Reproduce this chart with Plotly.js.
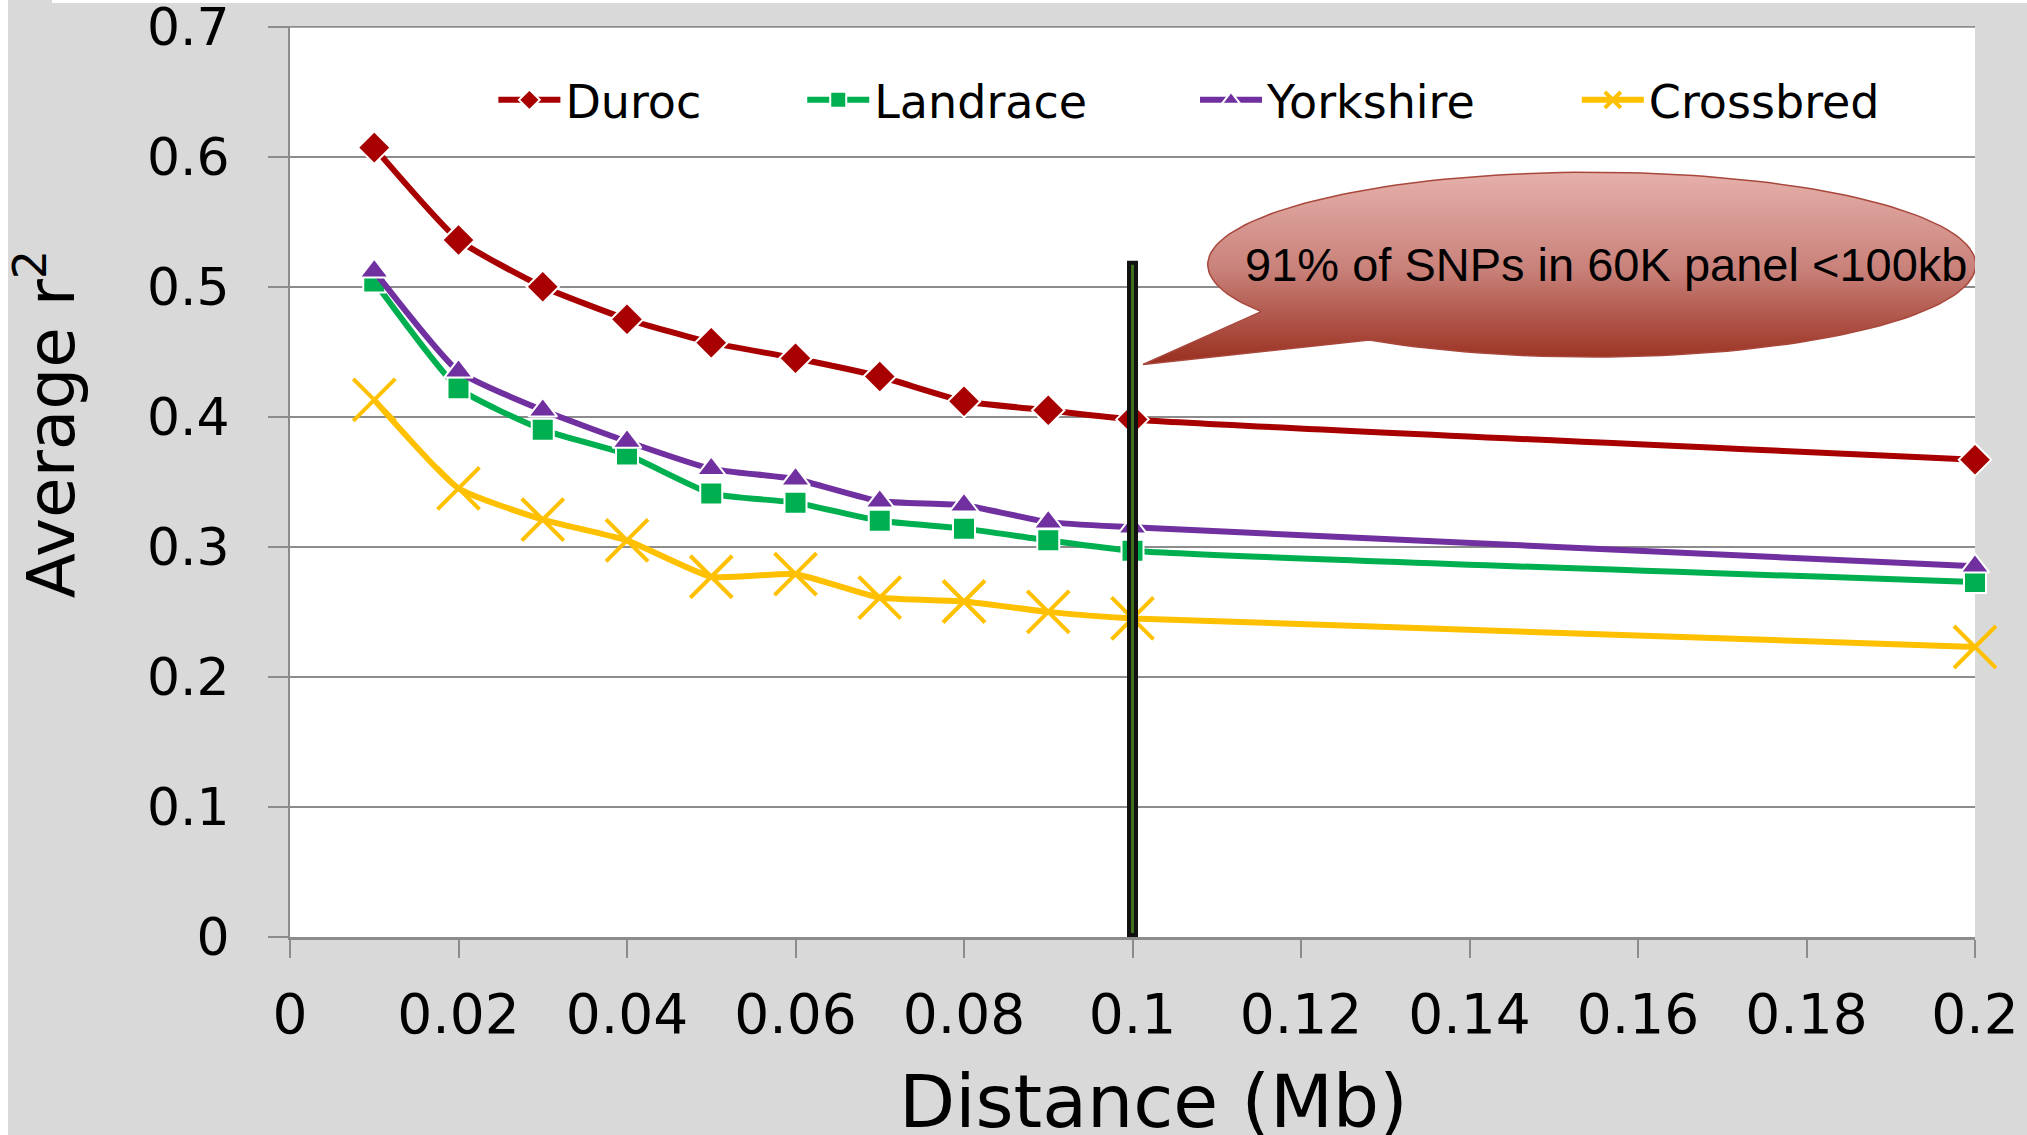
<!DOCTYPE html>
<html>
<head>
<meta charset="utf-8">
<script src="https://cdn.plot.ly/plotly-3.0.1.min.js"></script>
<style>
  html, body { margin: 0; padding: 0; background: #ffffff; }
  #chart { width: 2027px; height: 1135px; }
</style>
</head>
<body>
<div id="chart"></div>
<script>
// ---- data ----
const distance  = [0.01, 0.02, 0.03, 0.04, 0.05, 0.06, 0.07, 0.08, 0.09, 0.10, 0.20];
const duroc     = [0.607, 0.536, 0.500, 0.475, 0.457, 0.445, 0.431, 0.412, 0.405, 0.398, 0.367];
const landrace  = [0.504, 0.422, 0.390, 0.371, 0.341, 0.334, 0.320, 0.314, 0.305, 0.297, 0.273];
const yorkshire = [0.512, 0.435, 0.405, 0.381, 0.360, 0.352, 0.335, 0.332, 0.319, 0.315, 0.285];
const crossbred = [0.413, 0.345, 0.321, 0.305, 0.277, 0.279, 0.261, 0.258, 0.250, 0.245, 0.223];
const seriesNames = ["Duroc", "Landrace", "Yorkshire", "Crossbred"];

const xTickVals = [0, 0.02, 0.04, 0.06, 0.08, 0.10, 0.12, 0.14, 0.16, 0.18, 0.20];
const xTickText = ["0", "0.02", "0.04", "0.06", "0.08", "0.1", "0.12", "0.14", "0.16", "0.18", "0.2"];
const yTickVals = [0, 0.1, 0.2, 0.3, 0.4, 0.5, 0.6, 0.7];
const yTickText = ["0", "0.1", "0.2", "0.3", "0.4", "0.5", "0.6", "0.7"];

const xTitle = "Distance (Mb)";
const yTitle = "Average r<sup>2</sup>";
const cutoffDistance = 0.1;
const cutoffTop = 0.52;
const calloutText = "91% of SNPs in 60K panel <100kb";

// ---- styling ----
const FONT = "DejaVu Sans, Arial, sans-serif";
const colors = { Duroc: "#a80000", Landrace: "#00b050", Yorkshire: "#7030a0", Crossbred: "#ffc000" };

function seriesTrace(name, y, symbol, size, legendId, open) {
  return {
    type: "scatter", mode: "lines+markers", name: name,
    x: distance, y: y, legend: legendId, cliponaxis: false,
    line: { color: colors[name], width: 6, shape: "spline", smoothing: 0.5 },
    marker: open
      ? { symbol: symbol, size: size, color: colors[name], line: { color: colors[name], width: 4 } }
      : { symbol: symbol, size: size, color: colors[name], line: { color: "#ffffff", width: 2 } },
    hoverinfo: "skip"
  };
}

// ---- callout (wedge ellipse) outline, built from a few parameters ----
const co = { cx: 0.15451, cy: 0.5170, rx: 0.04558, ry: 0.07106,
             tStart: 234.6, tEnd: 572.0, tipX: 0.10125, tipY: 0.4403 };
const cxs = [], cys = [];
for (let t = co.tStart; t <= co.tEnd + 1e-9; t += 2) {
  const a = t * Math.PI / 180;
  cxs.push(co.cx + co.rx * Math.cos(a));
  cys.push(co.cy + co.ry * Math.sin(a));
}
cxs.push(co.tipX); cys.push(co.tipY);
cxs.push(cxs[0]); cys.push(cys[0]);

const calloutTrace = {
  type: "scatter", mode: "lines", x: cxs, y: cys, fill: "toself",
  fillcolor: "#c97a70",
  fillgradient: { type: "vertical", colorscale: [[0, "#992e1e"], [0.5, "#c9827a"], [1, "#e6b0ab"]] },
  line: { color: "#a8473c", width: 1.5 },
  showlegend: false, hoverinfo: "skip"
};

const traces = [
  calloutTrace,
  seriesTrace("Crossbred", crossbred, "x-thin-open", 42, "legend4", true),
  seriesTrace("Landrace", landrace, "square", 22, "legend2", false),
  seriesTrace("Yorkshire", yorkshire, "triangle-up", 25, "legend3", false),
  seriesTrace("Duroc", duroc, "diamond", 25, "legend", false)
];

function legendAt(xp) {
  return {
    x: xp, y: 0.9188, xanchor: "left", yanchor: "middle", orientation: "h",
    bgcolor: "rgba(0,0,0,0)", borderwidth: 0, itemwidth: 62,
    font: { family: FONT, size: 46, color: "#000000" }
  };
}

const layout = {
  width: 2027, height: 1135,
  margin: { l: 290, r: 52, t: 26, b: 198, pad: 0 },
  paper_bgcolor: "#d9d9d9",
  plot_bgcolor: "#ffffff",
  hovermode: false,
  showlegend: true,
  legend: legendAt(0.1207),
  legend2: legendAt(0.3040),
  legend3: legendAt(0.5371),
  legend4: legendAt(0.7637),
  xaxis: {
    range: [0, 0.2], tickmode: "array", tickvals: xTickVals, ticktext: xTickText,
    showgrid: false, zeroline: false,
    showline: true, linecolor: "#8c8c8c", linewidth: 3,
    ticks: "outside", ticklen: 18, tickwidth: 2, tickcolor: "#8c8c8c",
    ticklabelstandoff: 9, ticklabeloverflow: "allow",
    tickfont: { family: FONT, size: 55, color: "#000000" },
    fixedrange: true
  },
  yaxis: {
    range: [0, 0.7005], tickmode: "array", tickvals: yTickVals, ticktext: yTickText,
    showgrid: true, gridcolor: "#8c8c8c", gridwidth: 2, zeroline: false,
    showline: true, linecolor: "#8c8c8c", linewidth: 2,
    ticks: "outside", ticklen: 20, tickwidth: 2, tickcolor: "#8c8c8c",
    ticklabelstandoff: 28, ticklabeloverflow: "allow",
    tickfont: { family: FONT, size: 52, color: "#000000" },
    fixedrange: true
  },
  shapes: [
    { type: "line", xref: "paper", yref: "y", x0: 0, x1: 1, y0: yTickVals[yTickVals.length - 1], y1: yTickVals[yTickVals.length - 1],
      line: { color: "#8c8c8c", width: 2 }, layer: "below" },
    { type: "line", xref: "x", yref: "y", x0: cutoffDistance, x1: cutoffDistance, y0: 0, y1: cutoffTop,
      line: { color: "#111111", width: 11 }, layer: "above" },
    { type: "line", xref: "x", yref: "y", x0: cutoffDistance, x1: cutoffDistance, y0: 0.003, y1: cutoffTop - 0.003,
      line: { color: "#3f6f1c", width: 3 }, layer: "above" },
    { type: "rect", xref: "paper", yref: "paper", x0: -290 / 1685, x1: -282 / 1685, y0: -0.3, y1: 1.1,
      fillcolor: "#ffffff", line: { width: 0 }, layer: "below" },
    { type: "rect", xref: "paper", yref: "paper", x0: -238 / 1685, x1: 1.1, y0: 1 + 23 / 911, y1: 1.1,
      fillcolor: "#ffffff", line: { width: 0 }, layer: "below" }
  ],
  annotations: [
    { xref: "x", yref: "y", x: 0.15618, y: 0.5174, text: calloutText, showarrow: false,
      xanchor: "center", yanchor: "middle",
      font: { family: "Liberation Sans, Arial, sans-serif", size: 47, color: "#000000" } },
    { xref: "paper", yref: "paper", x: -0.144, y: 0.5632, text: yTitle, showarrow: false,
      textangle: -90, xanchor: "center", yanchor: "middle",
      font: { family: FONT, size: 66, color: "#000000" } },
    { xref: "paper", yref: "paper", x: 0.5122, y: -0.181, text: xTitle, showarrow: false,
      xanchor: "center", yanchor: "middle",
      font: { family: FONT, size: 73, color: "#000000" } }
  ]
};

Plotly.newPlot("chart", traces, layout, { displayModeBar: false, staticPlot: true });
</script>
</body>
</html>
